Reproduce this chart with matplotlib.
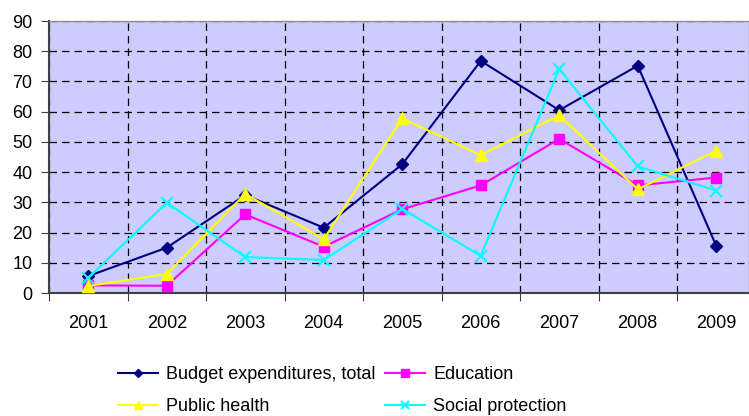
import numpy as np
import matplotlib
matplotlib.use('Agg')
import matplotlib.pyplot as plt
from matplotlib.ticker import FixedLocator, NullFormatter

plt.rcParams['font.family'] = ['Liberation Sans', 'DejaVu Sans']

years = ['2001', '2002', '2003', '2004', '2005', '2006', '2007', '2008', '2009']
budget_total = [5.6, 15.0, 32.4, 21.6, 42.6, 76.8, 60.5, 75.2, 15.6]
education = [2.5, 2.4, 26.0, 15.3, 27.7, 35.6, 51.0, 35.6, 38.2]
public_health = [2.3, 6.3, 32.8, 17.8, 57.8, 45.6, 58.8, 34.3, 47.1]
social_protection = [5.0, 29.9, 11.9, 10.9, 27.8, 12.3, 74.1, 41.9, 33.9]

W, H = 749, 416
fig = plt.figure(figsize=(W / 100, H / 100), dpi=100)
left, right, top, bottom = 49, 749, 21, 293
ax = fig.add_axes([left / W, 1 - bottom / H, (right - left) / W, (bottom - top) / H])
ax.set_facecolor('#CCCCFF')

x = np.arange(len(years))
series = [
    (budget_total, 'Budget expenditures, total', '#000080', 'D', 6),
    (education, 'Education', '#FF00FF', 's', 7),
    (public_health, 'Public health', '#FFFF00', '^', 8),
    (social_protection, 'Social protection', '#00FFFF', 'x', 8),
]
handles = []
for vals, label, col, mk, ms in series:
    h, = ax.plot(x, vals, color=col, marker=mk, markersize=ms, linewidth=1.5,
                 markeredgecolor=col, markeredgewidth=1.5 if mk == 'x' else 1,
                 label=label, zorder=3, clip_on=False)
    handles.append(h)

# category spacing ~78.5 px; plot is clipped at right image edge
step = 78.5
ax.set_xlim(-0.5, -0.5 + (right - left) / step)
ax.set_ylim(0, 90)

ax.xaxis.set_major_locator(FixedLocator(np.arange(-0.5, 9.0, 1.0)))
ax.xaxis.set_major_formatter(NullFormatter())
ax.xaxis.set_minor_locator(FixedLocator(x))
ax.set_xticklabels(years, minor=True)
ax.tick_params(axis='x', which='major', length=6, color='#404040', direction='out')
ax.tick_params(axis='x', which='minor', length=0, pad=16, labelsize=13)
ax.set_yticks(np.arange(0, 91, 10))
ax.tick_params(axis='y', length=6, color='#404040', labelsize=13, pad=6)

ax.grid(True, which='major', color='black', linestyle=(0, (6, 4)), linewidth=0.9)
ax.set_axisbelow(True)

for s in ['top', 'right']:
    ax.spines[s].set_color('#909090')
    ax.spines[s].set_linewidth(1)
for s in ['left', 'bottom']:
    ax.spines[s].set_color('#404040')
    ax.spines[s].set_linewidth(1.5)

# legend is filled row by row in the reference
order = [0, 2, 1, 3]
fig.legend(handles=[handles[i] for i in order], loc='upper left',
           bbox_to_anchor=(118 / W, 1 - 366 / H),
           ncol=2, frameon=False, fontsize=13, handlelength=2.2,
           handletextpad=0.45, columnspacing=0.55, labelspacing=0.85,
           markerscale=0.75, borderaxespad=0, borderpad=0)

fig.savefig('out.png', dpi=100)
